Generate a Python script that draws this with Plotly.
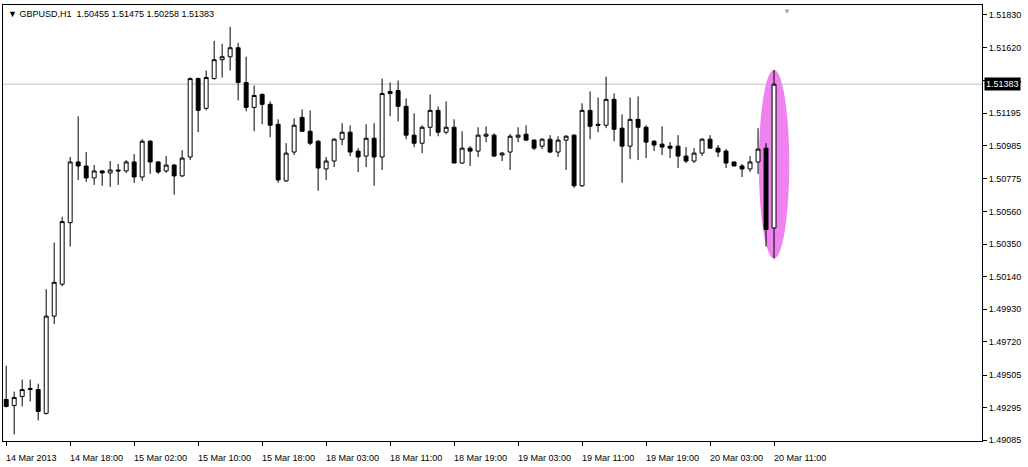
import plotly.graph_objects as go

open_ = [1.49348,1.49309,1.49367,1.49412,1.49412,1.49258,1.49886,1.50092,1.50489,1.50881,
 1.50855,1.50778,1.50823,1.50810,1.50829,1.50823,1.50881,1.50784,1.51015,1.50881,
 1.50823,1.50861,1.50791,1.50913,1.51419,1.51227,1.51419,1.51541,1.51560,1.51618,
 1.51394,1.51233,1.51317,1.51253,1.51124,1.50759,1.50945,1.51169,1.51079,1.51015,
 1.50836,1.50887,1.51028,1.51073,1.50951,1.50919,1.51034,1.50913,1.51323,1.51342,
 1.51240,1.51054,1.51002,1.51105,1.51214,1.51073,1.51105,1.50874,1.50970,1.50951,
 1.51047,1.51054,1.50926,1.50945,1.51041,1.51060,1.51022,1.50983,1.51028,1.50945,
 1.51022,1.51054,1.50727,1.51214,1.51124,1.51118,1.51285,1.51099,1.50983,1.51156,
 1.51105,1.51015,1.50996,1.50983,1.50983,1.50919,1.50887,1.50938,1.51028,1.50970,
 1.50951,1.50881,1.50855,1.50836,1.50881,1.50970,1.50455]
high = [1.49566,1.49399,1.49476,1.49476,1.49450,1.50060,1.50361,1.50528,1.50913,1.51176,
 1.50945,1.50861,1.50829,1.50887,1.50868,1.50893,1.50932,1.51028,1.51022,1.50887,
 1.50919,1.50868,1.50957,1.51426,1.51426,1.51471,1.51663,1.51644,1.51753,1.51650,
 1.51560,1.51374,1.51323,1.51272,1.51156,1.51002,1.51163,1.51220,1.51214,1.51022,
 1.50913,1.51034,1.51131,1.51118,1.50970,1.51124,1.51131,1.51419,1.51394,1.51406,
 1.51291,1.51195,1.51118,1.51317,1.51240,1.51272,1.51156,1.51079,1.50983,1.51105,
 1.51111,1.51066,1.50945,1.51060,1.51105,1.51118,1.51028,1.51034,1.51054,1.51047,
 1.51054,1.51060,1.51259,1.51336,1.51297,1.51432,1.51323,1.51188,1.51297,1.51304,
 1.51118,1.51022,1.51111,1.51009,1.51054,1.50977,1.50970,1.51034,1.51054,1.50990,
 1.50964,1.50881,1.50868,1.50919,1.51099,1.51002,1.51475]
low = [1.49296,1.49123,1.49303,1.49335,1.49213,1.49251,1.49835,1.50079,1.50335,1.50765,
 1.50752,1.50733,1.50727,1.50720,1.50733,1.50810,1.50746,1.50759,1.50804,1.50804,
 1.50810,1.50669,1.50784,1.50893,1.51073,1.51214,1.51413,1.51426,1.51471,1.51278,
 1.51208,1.51079,1.51124,1.51041,1.50746,1.50752,1.50926,1.51079,1.50990,1.50695,
 1.50765,1.50848,1.50990,1.50919,1.50816,1.50848,1.50727,1.50829,1.51176,1.51143,
 1.51028,1.50977,1.50938,1.51047,1.51047,1.51060,1.50874,1.50868,1.50855,1.50913,
 1.51009,1.50913,1.50887,1.50829,1.51009,1.51015,1.50957,1.50964,1.50938,1.50913,
 1.50829,1.50714,1.50720,1.51028,1.51073,1.51099,1.51015,1.50746,1.50900,1.50893,
 1.50906,1.50951,1.50926,1.50906,1.50842,1.50874,1.50874,1.50919,1.50970,1.50913,
 1.50842,1.50855,1.50784,1.50816,1.50804,1.50335,1.50258]
close = [1.49303,1.49361,1.49412,1.49418,1.49271,1.49886,1.50104,1.50496,1.50881,1.50855,
 1.50778,1.50823,1.50810,1.50829,1.50823,1.50881,1.50784,1.51015,1.50881,1.50816,
 1.50861,1.50791,1.50906,1.51419,1.51214,1.51426,1.51541,1.51560,1.51618,1.51394,
 1.51233,1.51310,1.51253,1.51118,1.50765,1.50938,1.51118,1.51079,1.51002,1.50842,
 1.50887,1.51028,1.51073,1.50945,1.50913,1.51034,1.50913,1.51323,1.51336,1.51240,
 1.51054,1.51002,1.51105,1.51214,1.51073,1.51105,1.50874,1.50970,1.50951,1.51054,
 1.51060,1.50919,1.50938,1.51047,1.51054,1.51022,1.50970,1.51028,1.50945,1.51022,
 1.51047,1.50727,1.51214,1.51111,1.51118,1.51285,1.51092,1.50983,1.51156,1.51105,
 1.51009,1.50990,1.50977,1.50970,1.50919,1.50887,1.50938,1.51028,1.50970,1.50945,
 1.50874,1.50855,1.50836,1.50881,1.50964,1.50445,1.51383]

x_tick_labels = ["14 Mar 2013","14 Mar 18:00","15 Mar 02:00","15 Mar 10:00","15 Mar 18:00",
 "18 Mar 03:00","18 Mar 11:00","18 Mar 19:00","19 Mar 03:00","19 Mar 11:00",
 "19 Mar 19:00","20 Mar 03:00","20 Mar 11:00"]
y_ticks = [1.51830,1.51620,1.51405,1.51195,1.50985,1.50775,1.50560,1.50350,
 1.50140,1.49930,1.49720,1.49505,1.49295,1.49085]

n = len(open_)
xs = list(range(n))
tick_step = 8
tickvals = [i * tick_step for i in range(len(x_tick_labels))]
last = n - 1
font = "Liberation Sans"

fig = go.Figure(go.Candlestick(
    x=xs, open=open_, high=high, low=low, close=close,
    increasing=dict(line=dict(color="black", width=1), fillcolor="white"),
    decreasing=dict(line=dict(color="black", width=1), fillcolor="black"),
    whiskerwidth=0, hoverinfo="skip", showlegend=False))

fig.add_shape(type="circle", xref="x", yref="y", layer="below",
              x0=last - 1.9, x1=last + 1.9, y0=low[last], y1=high[last],
              fillcolor="#EE82EE", line=dict(width=0))
fig.add_shape(type="line", xref="paper", yref="y", x0=0, x1=1,
              y0=close[last], y1=close[last], line=dict(color="#C0C0C0", width=1), layer="below")

ann = []
for v, t in zip(tickvals, x_tick_labels):
    ann.append(dict(x=v - 0.3, y=-0.022, xref="x", yref="paper", text=t, showarrow=False,
                    xanchor="left", yanchor="top", font=dict(family=font, size=9, color="black")))
ann.append(dict(x=1.002, y=close[last], xref="paper", yref="y", text="%.5f" % close[last],
                showarrow=False, xanchor="left", yanchor="middle", bgcolor="black",
                font=dict(family=font, size=9, color="white"), borderpad=1))
ann.append(dict(x=0.003, y=0.995, xref="paper", yref="paper",
                text="▼ GBPUSD,H1  %.5f %.5f %.5f %.5f" % (open_[last], high[last], low[last], close[last]),
                showarrow=False, xanchor="left", yanchor="top", font=dict(family=font, size=9, color="black")))
ann.append(dict(x=0.801, y=1.0, xref="paper", yref="paper", text="▼", showarrow=False,
                xanchor="center", yanchor="top", font=dict(family=font, size=8, color="#A8A8A8")))

fig.update_layout(
    width=1028, height=467, margin=dict(l=3, r=46, t=5, b=26),
    paper_bgcolor="white", plot_bgcolor="white", annotations=ann,
    xaxis=dict(range=[-0.4, 122], rangeslider=dict(visible=False), showgrid=False, zeroline=False,
               tickvals=tickvals, showticklabels=False, ticks="outside", ticklen=4, tickcolor="black",
               showline=True, linecolor="black", mirror=True),
    yaxis=dict(range=[1.49080, 1.51894], side="right", showgrid=False, zeroline=False,
               tickvals=y_ticks, ticktext=["%.5f" % v for v in y_ticks], ticks="outside", ticklen=4,
               tickcolor="black", tickfont=dict(family=font, size=9, color="black"),
               showline=True, linecolor="black", mirror=True, automargin=False),
)
fig.write_html("out.html", config={"displayModeBar": False})
with open("out.html", encoding="utf-8") as f:
    html = f.read()
html = html.replace("<body>", '<body style="margin:0;overflow:hidden">', 1)
with open("out.html", "w", encoding="utf-8") as f:
    f.write(html)
